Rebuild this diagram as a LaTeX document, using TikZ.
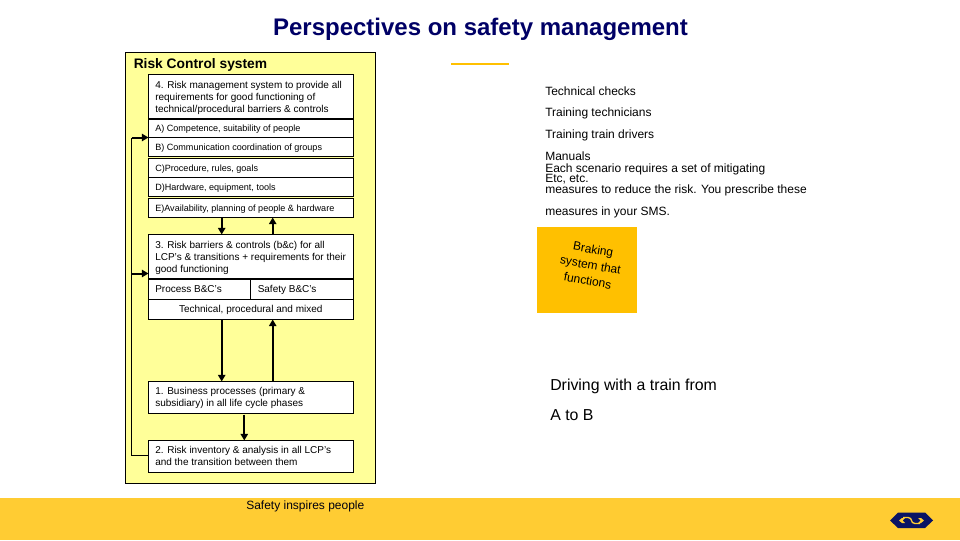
\documentclass[tikz,border=0pt]{standalone}
\usepackage{fontspec}
\setmainfont{Liberation Sans}
\usetikzlibrary{arrows.meta}
\definecolor{panel}{HTML}{FFFF99}
\definecolor{band}{HTML}{FFCC33}
\definecolor{gold}{HTML}{FFC000}
\definecolor{nsblue}{HTML}{0A1464}
\definecolor{titleblue}{HTML}{000066}
\tikzset{
  flow/.style={line width=1.5pt,-{Triangle[length=5pt,width=5.5pt]}},
  label/.style={anchor=west,inner sep=0pt,font=\fontsize{9}{11}\selectfont},
}
% name, x1, y1, x2, y2, indent px, text
\newcommand{\rbox}[7]{%
  \node[draw=black,line width=0.75pt,fill=white,inner sep=0pt,outer sep=0pt,anchor=north west,
        minimum width=(#4-#2)*0.75pt,minimum height=(#5-#3)*0.75pt] (#1) at (#2,#3) {};
  \node[anchor=west,inner sep=0pt,align=left,font=\fontsize{7.5}{9}\selectfont] (#1t) at ([xshift=#6*0.75pt,yshift=-0.6pt]#1.west) {#7\vphantom{(p}};
}
\newcommand{\sm}{\fontsize{6.8}{9}\selectfont}
\begin{document}
\begin{tikzpicture}[x=0.75pt,y=-0.75pt]
\useasboundingbox (0,0) rectangle (960,540);
\fill[white] (0,0) rectangle (960,540);
\fill[band] (0,498) rectangle (960,540);
\node[anchor=center,inner sep=0pt,text=titleblue,font=\bfseries\fontsize{18}{20}\selectfont] (title) at (480.5,29.5) {Perspectives on safety management};
\node[draw=black,line width=0.75pt,fill=panel,inner sep=0pt,outer sep=0pt,anchor=north west,minimum width=250*0.75pt,minimum height=431*0.75pt] (panel) at (125.5,52.5) {};
\node[anchor=west,inner sep=0pt,font=\bfseries\fontsize{10.35}{12}\selectfont] (ptitle) at (133.5,64.5) {Risk Control system};
\rbox{b4}{148.5}{74.5}{353}{119}{6.5}{4. Risk management system to provide all\\requirements for good functioning of\\technical/procedural barriers \& controls}
\rbox{ba}{148.5}{119}{353}{137.5}{6.5}{\sm A) Competence, suitability of people}
\rbox{bb}{148.5}{137.5}{353}{156.5}{6.5}{\sm B) Communication coordination of groups}
\rbox{bc}{148.5}{158.5}{353}{177.5}{6.5}{\sm C)Procedure, rules, goals}
\rbox{bd}{148.5}{177.5}{353}{196.5}{6.5}{\sm D)Hardware, equipment, tools}
\rbox{be}{148.5}{198.5}{353}{217.5}{6.5}{\sm E)Availability, planning of people \& hardware}
\rbox{b3}{148.5}{234.5}{353}{279}{6.5}{3. Risk barriers \& controls (b\&c) for all\\LCP's \& transitions + requirements for their\\good functioning}
\rbox{bp}{148.5}{279}{250.5}{299.5}{6.5}{Process B\&C's}
\rbox{bs}{250.5}{279}{353}{299.5}{7}{Safety B\&C's}
\node[draw=black,line width=0.75pt,fill=white,inner sep=0pt,outer sep=0pt,anchor=north west,minimum width=204.5*0.75pt,minimum height=20*0.75pt,font=\fontsize{7.5}{9}\selectfont] (bt) at (148.5,299.5) {Technical, procedural and mixed\vphantom{(p}};
\rbox{b1}{148.5}{381.5}{353}{413.5}{6.5}{1. Business processes (primary \&\\subsidiary) in all life cycle phases}
\rbox{b2}{148.5}{440.5}{353}{472.5}{6.5}{2. Risk inventory \& analysis in all LCP's\\and the transition between them}
\draw[line width=1.5pt] (b4.south west) -- (b4.south east);
\draw[line width=1.5pt] (b3.south west) -- (b3.south east);
\coordinate (dn1) at (221.7,217.5); \coordinate (dn2) at (221.7,234.5);
\coordinate (up1) at (272.7,234.5); \coordinate (up2) at (272.7,217.5);
\coordinate (dn3) at (221.7,319.5); \coordinate (dn4) at (221.7,381.5);
\coordinate (up3) at (272.7,381.5); \coordinate (up4) at (272.7,319.5);
\draw[flow] (dn1) -- (dn2);
\draw[flow] (up1) -- (up2);
\draw[flow] (dn3) -- (dn4);
\draw[flow] (up3) -- (up4);
\coordinate (m1) at (244.3,414.5); \coordinate (m2) at (244.3,440.5);
\draw[flow] (m1) -- (m2);
\coordinate (l0) at (131.7,455.5); \coordinate (l1) at (131.7,137.5); \coordinate (l2) at (131.7,273.5);
\draw[line width=0.9pt] (b2.west |- l0) -- (l0) -- (l1);
\draw[flow] (l1) -- (b4.south west |- l1);
\draw[flow] (l2) -- (b3.west |- l2);
\coordinate (o1) at (451,64); \coordinate (o2) at (509,64);
\draw[gold,line width=2pt] (o1) -- (o2);
\node[label] (t1) at (545,91) {Technical checks};
\node[label] (t2) at (545,113) {Training technicians};
\node[label] (t3) at (545,135) {Training train drivers};
\node[label] (t4) at (545,156) {Manuals};
\node[label] (t5) at (545,169) {Each scenario requires a set of mitigating};
\node[label] (t6) at (545,179) {Etc, etc.};
\node[label] (t7) at (545,190) {measures to reduce the risk. You prescribe these};
\node[label] (t8) at (545,212) {measures in your SMS.};
\node[fill=gold,inner sep=0pt,outer sep=0pt,anchor=north west,minimum width=100*0.75pt,minimum height=86*0.75pt] (gbox) at (537,227) {};
\node[rotate=-10,align=center,inner sep=0pt,font=\fontsize{9}{12}\selectfont] (gt) at (590.5,265) {Braking\\system that\\functions};
\node[label,font=\fontsize{11.9}{14}\selectfont] (d1) at (550,386) {Driving with a train from};
\node[label,font=\fontsize{11.9}{14}\selectfont] (d2) at (550,415) {A to B};
\node[label,text=black!85!titleblue] (s) at (246,506) {Safety inspires people};
% NS logo
\fill[nsblue] (890,520.5) -- (898,512.5) -- (925,512.5) -- (933,520.5) -- (925,528) -- (898,528) -- cycle;
\fill[band] (899,520.5) -- (902,518) -- (905,518) -- (902.5,520.5) -- (905,523) -- (902,523) -- cycle;
\fill[band] (924,520.5) -- (921,518) -- (918,518) -- (920.5,520.5) -- (918,523) -- (921,523) -- cycle;
\draw[band,line width=1pt] (903,517.5) -- (908,517.5) .. controls (913,517.5) and (910,523.5) .. (915,523.5) -- (920,523.5);
\end{tikzpicture}
\end{document}
